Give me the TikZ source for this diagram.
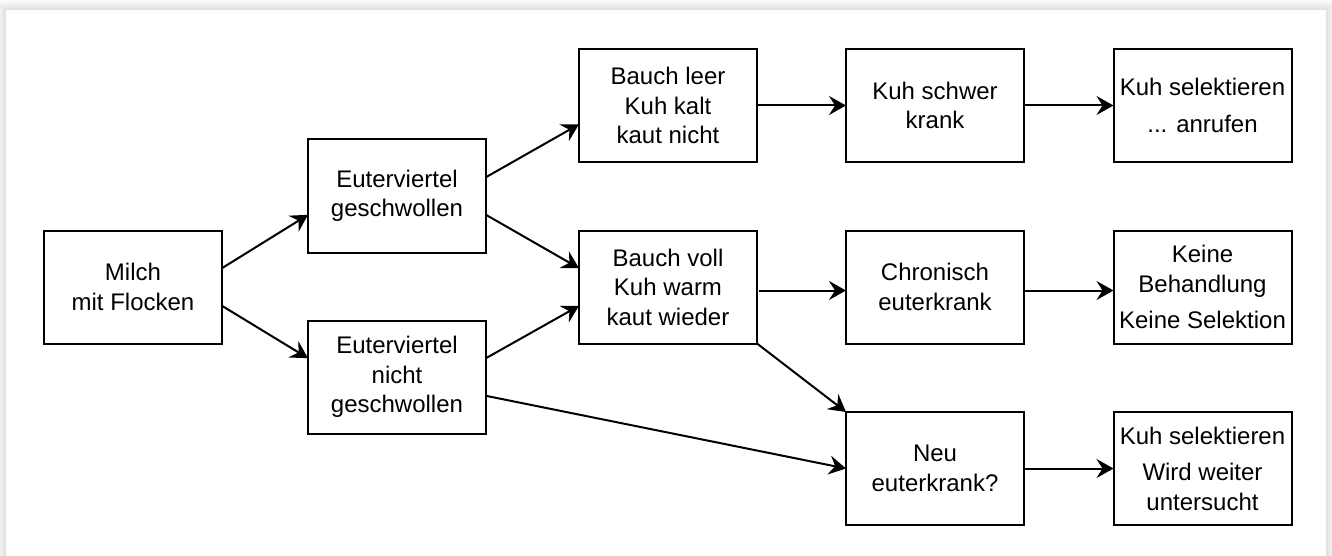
\documentclass[tikz,border=0pt]{standalone}
\usepackage{fontspec}
\setmainfont{Liberation Sans}
\usetikzlibrary{arrows.meta,calc}

\tikzset{
  box/.style={draw=black, line width=2pt, fill=white, rectangle,
    minimum width=178pt, minimum height=113pt, outer sep=0pt, inner sep=2pt,
    align=center, font=\fontsize{24}{29.5}\selectfont},
  arr/.style={line width=2pt, -{Stealth[length=17pt,width=19pt,inset=6pt]}}
}

\begin{document}
\begin{tikzpicture}[x=1pt,y=-1pt]
  \useasboundingbox (0,0) rectangle (1332,556);
  \clip (0,0) rectangle (1332,556);
  % page with a soft drop shadow
  \fill[white] (0,0) rectangle (1332,556);
  \foreach \i in {1,...,10}
    \fill[black, opacity=0.012] ({6-\i},{10-\i}) rectangle ({1326+\i},570);
  \fill[white] (6,10) rectangle (1326,570);

  % column 1
  \node[box] (milch) at (133,287) {Milch\\mit Flocken};
  % column 2
  \node[box] (eg) at (397,196) {Euterviertel\\geschwollen};
  \node[box] (en) at (397,377) {Euterviertel\\nicht\\geschwollen};
  % column 3
  \node[box] (bl) at (668,105.5) {Bauch leer\\Kuh kalt\\kaut nicht};
  \node[box] (bv) at (668,287) {Bauch voll\\Kuh warm\\kaut wieder};
  % column 4
  \node[box] (ks) at (935,105.5) {Kuh schwer\\krank};
  \node[box] (ch) at (935,287) {Chronisch\\euterkrank};
  \node[box] (neu) at (935,468.5) {Neu\\euterkrank?};
  % column 5
  \node[box] (sel1) at (1202.5,105.5) {Kuh selektieren\\[7pt]... anrufen};
  \node[box] (kb) at (1202.5,287) {Keine\\Behandlung\\[7pt]Keine Selektion};
  \node[box] (sel2) at (1202.5,468.5) {Kuh selektieren\\[7pt]Wird weiter\\untersucht};

  % connectors
  \draw[arr] ($(milch.north east)!1/3!(milch.south east)$) -- ($(eg.north west)!2/3!(eg.south west)$);
  \draw[arr] ($(milch.north east)!2/3!(milch.south east)$) -- ($(en.north west)!1/3!(en.south west)$);
  \draw[arr] ($(eg.north east)!1/3!(eg.south east)$) -- ($(bl.north west)!2/3!(bl.south west)$);
  \draw[arr] ($(eg.north east)!2/3!(eg.south east)$) -- ($(bv.north west)!1/3!(bv.south west)$);
  \draw[arr] ($(en.north east)!1/3!(en.south east)$) -- ($(bv.north west)!2/3!(bv.south west)$);
  \draw[arr] ($(en.north east)!2/3!(en.south east)$) -- (neu.west);
  \draw[arr] (bl.east) -- (ks.west);
  \draw[arr] (ks.east) -- (sel1.west);
  \draw[arr] ($(bv.east)+(2,3.5)$) -- ($(ch.west)+(0,3.5)$);
  \draw[arr] (bv.south east) -- (neu.north west);
  \draw[arr] ($(ch.east)+(0,3.5)$) -- ($(kb.west)+(0,3.5)$);
  \draw[arr] (neu.east) -- (sel2.west);
\end{tikzpicture}
\end{document}
